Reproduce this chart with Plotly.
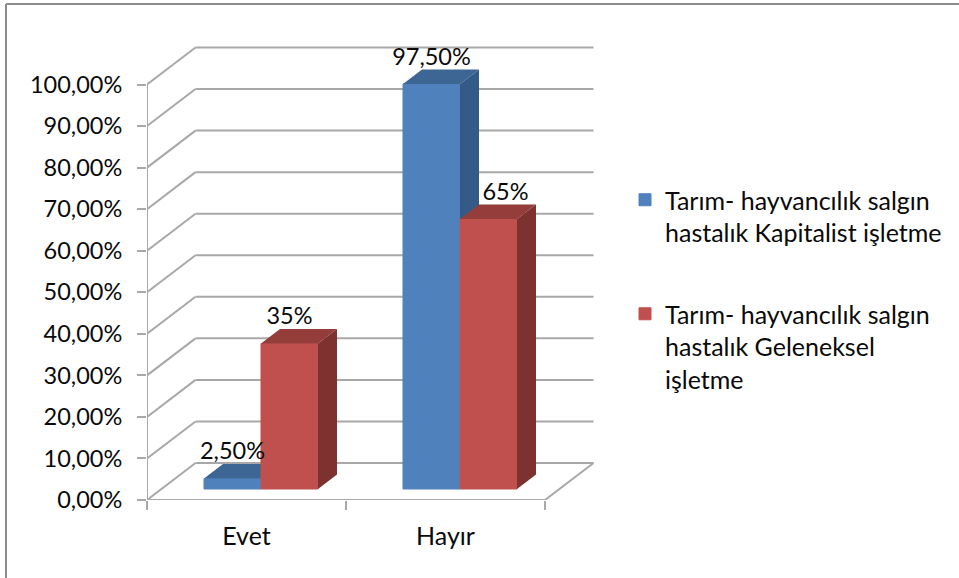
import plotly.graph_objects as go

# ---- data ----
categories = ["Evet", "Hayır"]
series_names = [
    "Tarım- hayvancılık salgın<br>hastalık Kapitalist işletme",
    "Tarım- hayvancılık salgın<br>hastalık Geleneksel<br>işletme",
]
kapitalist = [2.5, 97.5]
geleneksel = [35, 65]
kapitalist_labels = ["2,50%", "97,50%"]
geleneksel_labels = ["35%", "65%"]
y_ticks = [0, 10, 20, 30, 40, 50, 60, 70, 80, 90, 100]
y_tick_labels = ["0,00%", "10,00%", "20,00%", "30,00%", "40,00%", "50,00%",
                 "60,00%", "70,00%", "80,00%", "90,00%", "100,00%"]

# ---- scales (pixels per data unit) ----
W, H = 959, 578
X0, Y0 = 147, 500          # pixel position of data origin on the front plane
PX_X = 199.0               # pixels per category
PX_Y = 4.155               # pixels per percent
TOP_PX, RIGHT_PX = 40, 596
DEPTH_X = 48.5 / PX_X      # wall depth in data units
DEPTH_Y = 37 / PX_Y
BAR_DX = 19 / PX_X         # bar depth
BAR_DY = 14.5 / PX_Y
BAR_W = 57 / PX_X
BAR_BASE = 11 / PX_Y
BAR_SHIFT = 14.5 / PX_X    # bars sit deeper than the front plane
FONT = "Lato"
FS = 23.5
INK = "#0a0a0a"
GRID = "#a8a8a8"
BLUE, BLUE_TOP, BLUE_SIDE = "#4f81bd", "#3e6694", "#345a87"
RED, RED_TOP, RED_SIDE = "#c0504d", "#953d3b", "#7d3230"
LABEL_DX = [[0, 0], [0, 17 / PX_X]]

fig = go.Figure()


def add_series(values, labels, name, front, top, side, offset, xa, ya, nudges):
    xs = [i + 0.5 + BAR_SHIFT + offset for i in range(len(values))]
    fig.add_trace(go.Bar(
        x=xs, y=values, base=BAR_BASE, width=BAR_W, name=name, xaxis=xa, yaxis=ya,
        marker=dict(color=front, line=dict(color=front, width=1)), hoverinfo="skip",
        legendgroup=name))
    for xc, v in zip(xs, values):
        l, r = xc - BAR_W / 2, xc + BAR_W / 2
        t = BAR_BASE + v
        fig.add_trace(go.Scatter(
            x=[l, r, r + BAR_DX, l + BAR_DX, l],
            y=[t, t, t + BAR_DY, t + BAR_DY, t],
            fill="toself", fillcolor=top, mode="none", showlegend=False,
            hoverinfo="skip", xaxis=xa, yaxis=ya))
        fig.add_trace(go.Scatter(
            x=[r, r + BAR_DX, r + BAR_DX, r, r],
            y=[t, t + BAR_DY, BAR_BASE + BAR_DY, BAR_BASE, t],
            fill="toself", fillcolor=side, mode="none", showlegend=False,
            hoverinfo="skip", xaxis=xa, yaxis=ya))
    return xs


xs_a = add_series(kapitalist, kapitalist_labels, series_names[0], BLUE, BLUE_TOP, BLUE_SIDE,
                  -BAR_W / 2, "x", "y", LABEL_DX[0])
xs_b = add_series(geleneksel, geleneksel_labels, series_names[1], RED, RED_TOP, RED_SIDE,
                  BAR_W / 2, "x2", "y2", LABEL_DX[1])

# data labels, on the top layer
lab_x, lab_y, lab_t = [], [], []
for xs, vals, labs, nud in [(xs_a, kapitalist, kapitalist_labels, LABEL_DX[0]),
                            (xs_b, geleneksel, geleneksel_labels, LABEL_DX[1])]:
    for xc, v, t, n in zip(xs, vals, labs, nud):
        lab_x.append(xc + n)
        lab_y.append(BAR_BASE + v + 25 / PX_Y)
        lab_t.append(t)
fig.add_trace(go.Scatter(
    x=lab_x, y=lab_y, text=lab_t, mode="text", textposition="middle center",
    textfont=dict(family=FONT, size=FS, color=INK), showlegend=False,
    hoverinfo="skip", xaxis="x2", yaxis="y2"))

# walls: back gridlines, side diagonals, floor, axis line
n_cat = len(categories)
shapes = []


def seg(x0, y0, x1, y1):
    shapes.append(dict(type="line", xref="x", yref="y", x0=x0, y0=y0, x1=x1, y1=y1,
                       layer="below", line=dict(color=GRID, width=2)))


for v in y_ticks:
    seg(0, v, DEPTH_X, v + DEPTH_Y)
    seg(DEPTH_X, v + DEPTH_Y, n_cat + DEPTH_X, v + DEPTH_Y)
seg(0, 0, n_cat, 0)
seg(n_cat, 0, n_cat + DEPTH_X, DEPTH_Y)
seg(0, 0, 0, y_ticks[-1])

# picture frame: left and top edges
for x0, y0, x1, y1 in [(6 / W, 0, 6 / W, 1 - 4 / H), (6 / W, 1 - 4 / H, 1, 1 - 4 / H)]:
    shapes.append(dict(type="line", xref="paper", yref="paper", x0=x0, y0=y0, x1=x1, y1=y1,
                       layer="below", line=dict(color="#8c8c8c", width=2)))

x_range = [0, (RIGHT_PX - X0) / PX_X]
y_range = [0, (Y0 - TOP_PX) / PX_Y]
x_dom = [X0 / W, RIGHT_PX / W]
y_dom = [(H - Y0) / H, (H - TOP_PX) / H]

fig.update_layout(
    width=W, height=H, margin=dict(l=0, r=0, t=0, b=0, pad=0, autoexpand=False),
    paper_bgcolor="white", plot_bgcolor="rgba(0,0,0,0)",
    barmode="overlay", shapes=shapes,
    font=dict(family=FONT, size=FS, color=INK),
    xaxis=dict(domain=x_dom, range=x_range, showgrid=False, zeroline=False, showline=False,
               tickmode="array", tickvals=[i + 0.5 for i in range(n_cat)], ticktext=categories,
               ticks="", ticklabelstandoff=19,
               minor=dict(tickmode="array", tickvals=list(range(n_cat + 1)), ticks="outside",
                          ticklen=9, tickwidth=2, tickcolor=GRID, showgrid=False),
               tickfont=dict(family=FONT, size=25, color=INK)),
    yaxis=dict(domain=y_dom, range=y_range, showgrid=False, zeroline=False, showline=False,
               tickmode="array", tickvals=y_ticks, ticktext=y_tick_labels,
               ticks="outside", ticklen=9, tickwidth=2, tickcolor=GRID, ticklabelstandoff=10,
               tickfont=dict(family=FONT, size=FS, color=INK)),
    xaxis2=dict(domain=x_dom, range=x_range, overlaying="x", anchor="y2", visible=False),
    yaxis2=dict(domain=y_dom, range=y_range, overlaying="y", anchor="x2", visible=False),
    legend=dict(x=625 / W, y=1 - 177 / H, xanchor="left", yanchor="top",
                bgcolor="rgba(0,0,0,0)", borderwidth=0, tracegroupgap=46, valign="top",
                font=dict(family=FONT, size=25, color=INK),
                itemclick=False, itemdoubleclick=False),
    showlegend=True,
)

fig.write_html("out.html", config={"displayModeBar": False},
               post_script="document.body.style.margin='0';")
